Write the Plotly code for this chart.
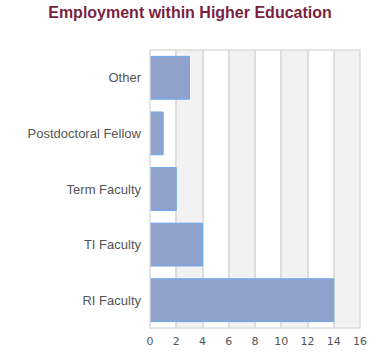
import plotly.graph_objects as go

categories = ["RI Faculty", "TI Faculty", "Term Faculty", "Postdoctoral Fellow", "Other"]
values = [14, 4, 2, 1, 3]
x_ticks = [0, 2, 4, 6, 8, 10, 12, 14, 16]

fig = go.Figure()
fig.add_trace(go.Bar(
    y=categories, x=values, orientation="h",
    marker=dict(color="#8ea2cc", line=dict(color="#6aa6ea", width=1)),
    hoverinfo="x+y",
))

shapes = []
for i in range(len(x_ticks) - 1):
    if i % 2 == 1:
        shapes.append(dict(type="rect", xref="x", yref="paper",
                           x0=x_ticks[i], x1=x_ticks[i + 1], y0=0, y1=1,
                           fillcolor="#f2f2f2", line=dict(width=0), layer="below"))
shapes.append(dict(type="rect", xref="paper", yref="paper", x0=0, x1=1, y0=0, y1=1,
                   line=dict(color="#dddddd", width=1.5), fillcolor="rgba(0,0,0,0)"))

fig.update_layout(
    width=380, height=360,
    margin=dict(l=150, r=20, t=50, b=30),
    paper_bgcolor="white", plot_bgcolor="white",
    title=dict(text="<b>Employment within Higher Education</b>", x=0.5, xanchor="center",
               y=0.98, yanchor="top",
               font=dict(family="Liberation Sans, Arial", size=16, color="#7b1f40")),
    font=dict(family="Liberation Sans, Arial", color="#444444"),
    bargap=0.23,
    shapes=shapes,
    showlegend=False,
)
fig.update_xaxes(range=[0, 16], tickvals=x_ticks, showgrid=True, gridcolor="#dddddd",
                 gridwidth=1.5, zeroline=False,
                 tickfont=dict(family="DejaVu Sans", size=11, color="#555555"),
                 ticklabelstandoff=5, fixedrange=True)
fig.update_yaxes(categoryorder="array", categoryarray=categories, showgrid=False,
                 tickfont=dict(family="Liberation Sans, Arial", size=13, color="#555555"),
                 ticks="", ticklabelstandoff=8, fixedrange=True)

fig.write_html("out.html")
